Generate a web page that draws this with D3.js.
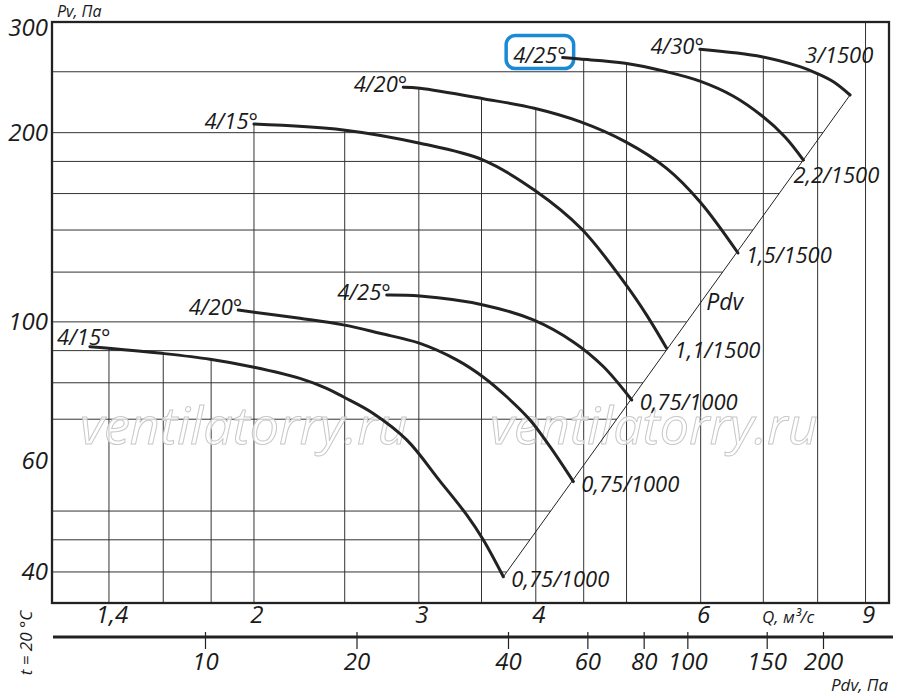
<!DOCTYPE html>
<html>
<head>
<meta charset="utf-8">
<script src="https://cdn.jsdelivr.net/npm/d3@7"></script>
<style>
  body { margin: 0; background: #fff; }
  text { font-family: "Open Sans", sans-serif; font-style: italic; fill: #1a1a1a; }
</style>
</head>
<body>
<script>
const width = 900;
const height = 697;
const margin = {top: 22, right: 11, bottom: 94, left: 52};

// axis values
const pvTicks = [300, 200, 100, 60, 40];
const pvGrid = [250, 200, 180, 160, 140, 120, 100, 90, 80, 70, 50, 45, 40];
const qTicks = [1.4, 2, 3, 4, 6, 9];
const qGrid = [1.4, 1.6, 1.8, 2, 2.5, 3, 3.5, 4, 4.5, 5, 6, 7, 8, 9];
const pdvTicks = [10, 20, 40, 60, 80, 100, 150, 200];

// fan curves, [Q m3/s, Pv Pa]
const low15 = [[1.336, 91.3], [1.399, 90.8], [1.595, 89.1], [1.795, 87.2], [2.0, 84.7], [2.239, 81.3], [2.391, 78.4],
  [2.49, 76.0], [2.682, 71.5], [2.912, 64.9], [3.16, 55.8], [3.375, 49.3], [3.515, 45.0], [3.693, 39.3]];
const low20 = [[1.924, 104.4], [2.239, 101.3], [2.491, 98.9], [2.726, 95.9], [3.003, 92.5], [3.293, 87.0],
  [3.511, 81.8], [3.724, 76.0], [3.944, 69.8], [4.142, 63.3], [4.387, 55.7]];
const low25 = [[2.772, 110.3], [3.008, 109.9], [3.515, 106.4], [3.976, 100.7], [4.387, 92.9], [4.722, 84.9], [5.064, 75.1]];
const high15 = [[2.0, 206.4], [2.491, 202.0], [3.008, 192.4], [3.515, 180.9], [3.992, 161.8], [4.477, 140.5],
  [4.994, 114.5], [5.254, 102.5], [5.518, 90.8]];
const high20 = [[2.887, 236.2], [3.008, 235.3], [3.515, 226.5], [3.985, 218.7], [4.459, 208.2], [4.984, 193.5],
  [5.518, 175.5], [5.989, 155.3], [6.577, 128.7]];
const high25 = [[4.273, 263.3], [4.459, 261.9], [4.984, 257.9], [5.518, 250.0], [5.989, 241.6], [6.497, 228.8],
  [6.98, 212.6], [7.384, 196.9], [7.725, 180.9]];
const high30 = [[5.989, 271.5], [6.973, 264.2], [7.658, 254.7], [7.982, 248.6], [8.316, 241.0], [8.664, 229.6]];
// dynamic pressure line through the curve ends
const pdvLine = [[3.693, 39.3], [8.664, 229.6]];

const curves = [
  {pts: low15, angle: "4/15°", motor: "0,75/1000"},
  {pts: low20, angle: "4/20°", motor: "0,75/1000"},
  {pts: low25, angle: "4/25°", motor: "0,75/1000"},
  {pts: high15, angle: "4/15°", motor: "1,1/1500"},
  {pts: high20, angle: "4/20°", motor: "1,5/1500"},
  {pts: high25, angle: "4/25°", motor: "2,2/1500", marked: true},
  {pts: high30, angle: "4/30°", motor: "3/1500"}
];

const svg = d3.select("body")
  .append("svg")
  .attr("width", width)
  .attr("height", height);

const x = d3.scaleLog().domain([1.217, 9.535]).range([margin.left, width - margin.right]);
const y = d3.scaleLog().domain([35.7, 300]).range([height - margin.bottom, margin.top]);
// the Pdv scale under the chart is drawn a bit uneven in the original
const xPdv = d3.scaleLog().domain([10, 40, 200]).range([205, 508, 823]);

const fmt = d => String(d).replace(".", ",");

// log-log interpolation along a curve
function pAt(pts, q) {
  for (let i = 0; i < pts.length - 1; i++) {
    const a = pts[i], b = pts[i + 1];
    if (q >= a[0] && q <= b[0]) {
      const t = (Math.log(q) - Math.log(a[0])) / (Math.log(b[0]) - Math.log(a[0]));
      return Math.exp(Math.log(a[1]) + t * (Math.log(b[1]) - Math.log(a[1])));
    }
  }
  return null;
}
function qAt(pts, p) {
  for (let i = 0; i < pts.length - 1; i++) {
    const a = pts[i], b = pts[i + 1];
    const lo = Math.min(a[1], b[1]), hi = Math.max(a[1], b[1]);
    if (p >= lo && p <= hi) {
      const t = (Math.log(p) - Math.log(a[1])) / (Math.log(b[1]) - Math.log(a[1]));
      return Math.exp(Math.log(a[0]) + t * (Math.log(b[0]) - Math.log(a[0])));
    }
  }
  return null;
}

// grid: horizontal lines stop at the outer curve / Pdv line, vertical ones at the top curve
const grid = svg.append("g").attr("stroke", "#333").attr("stroke-width", 1);
grid.selectAll(".h")
  .data(pvGrid)
  .enter()
  .append("line")
  .attr("x1", margin.left)
  .attr("x2", p => {
    const qs = curves.map(c => c.pts).concat([pdvLine]).map(pts => qAt(pts, p)).filter(v => v != null);
    return qs.length ? x(d3.max(qs)) : width - margin.right;
  })
  .attr("y1", p => y(p))
  .attr("y2", p => y(p));

grid.selectAll(".v")
  .data(qGrid)
  .enter()
  .append("line")
  .attr("x1", q => x(q))
  .attr("x2", q => x(q))
  .attr("y1", height - margin.bottom)
  .attr("y2", q => {
    const ps = curves.map(c => pAt(c.pts, q)).filter(v => v != null);
    return ps.length ? y(d3.max(ps)) : margin.top;
  });

// watermark
svg.selectAll(".wm")
  .data([80, 490])
  .enter()
  .append("text")
  .attr("x", d => d)
  .attr("y", 444)
  .style("font-size", "52px")
  .style("fill", "#fff")
  .style("fill-opacity", 0.7)
  .style("stroke", "#c8c8c8")
  .style("stroke-width", 1)
  .text("ventilatorry.ru");

// frame
svg.append("rect")
  .attr("x", margin.left)
  .attr("y", margin.top)
  .attr("width", width - margin.left - margin.right)
  .attr("height", height - margin.top - margin.bottom)
  .attr("fill", "none")
  .attr("stroke", "#222")
  .attr("stroke-width", 2.3);

// Pdv line
const line = d3.line().x(d => x(d[0])).y(d => y(d[1]));
svg.append("path")
  .datum(pdvLine)
  .attr("d", line)
  .attr("fill", "none")
  .attr("stroke", "#222")
  .attr("stroke-width", 1);

const pdvLabelP = 106;
svg.append("text")
  .attr("x", x(qAt(pdvLine, pdvLabelP)) + 8)
  .attr("y", y(pdvLabelP) + 4)
  .style("font-size", "23px")
  .text("Pdv");

// fan curves
const curveLine = d3.line().x(d => x(d[0])).y(d => y(d[1])).curve(d3.curveCatmullRom.alpha(0.5));
svg.selectAll(".curve")
  .data(curves)
  .enter()
  .append("path")
  .attr("d", d => curveLine(d.pts))
  .attr("fill", "none")
  .attr("stroke", "#222")
  .attr("stroke-width", 3)
  .attr("stroke-linecap", "round");

// blade angle labels at the start of each curve
curves.forEach(c => {
  const [q0, p0] = c.pts[0];
  const t = svg.append("text")
    .attr("x", x(q0) + 4)
    .attr("y", y(p0) + 5)
    .attr("text-anchor", "end")
    .style("font-size", "22px")
    .text(c.angle);
  let bb = t.node().getBBox();
  if (bb.x < margin.left + 3) {
    t.attr("text-anchor", "start").attr("x", margin.left + 5).attr("y", y(p0) - 2);
    bb = t.node().getBBox();
  }
  if (c.marked) {
    svg.insert("rect", "text")
      .attr("x", bb.x - 7)
      .attr("y", bb.y - 3)
      .attr("width", bb.width + 14)
      .attr("height", bb.height + 3)
      .attr("rx", 9)
      .attr("fill", "#fff")
      .attr("stroke", "#1a8ad4")
      .attr("stroke-width", 3.5);
    t.raise();
  }
});

// motor labels at the end of each curve
const crowded = {"2,2/1500": [-10, 23], "3/1500": [-45, -32]};
curves.forEach(c => {
  const [q1, p1] = c.pts[c.pts.length - 1];
  const off = crowded[c.motor] || [8, 10];
  svg.append("text")
    .attr("x", x(q1) + off[0])
    .attr("y", y(p1) + off[1])
    .style("font-size", "22px")
    .text(c.motor);
});

// Pv axis labels
svg.selectAll(".pv")
  .data(pvTicks)
  .enter()
  .append("text")
  .attr("x", margin.left - 4)
  .attr("y", p => Math.max(y(p), margin.top + 6) + 8)
  .attr("text-anchor", "end")
  .style("font-size", "24px")
  .text(fmt);

svg.append("text")
  .attr("x", margin.left + 5)
  .attr("y", margin.top - 5)
  .style("font-size", "16px")
  .text("Pv, Па");

// Q axis labels
const bottom = height - margin.bottom;
svg.selectAll(".q")
  .data(qTicks)
  .enter()
  .append("text")
  .attr("x", q => x(q) + 3)
  .attr("y", bottom + 20)
  .attr("text-anchor", "middle")
  .style("font-size", "24px")
  .text(fmt);

svg.append("text")
  .attr("x", 762)
  .attr("y", bottom + 20)
  .style("font-size", "17px")
  .text("Q, м³/с");

// Pdv axis
const axisY = 637;
const pdvAxis = svg.append("g")
  .attr("transform", `translate(0,${axisY})`)
  .call(d3.axisBottom(xPdv).tickValues(pdvTicks).tickFormat(fmt).tickSizeInner(12).tickSizeOuter(0).tickPadding(4));
pdvAxis.select(".domain").remove();
pdvAxis.selectAll(".tick line").attr("y1", -5).attr("stroke", "#222").attr("stroke-width", 1.2);
pdvAxis.selectAll(".tick text")
  .attr("fill", null)
  .style("font-size", "24px")
  .style("font-family", "'Open Sans', sans-serif");
pdvAxis.append("line")
  .attr("x1", margin.left + 1)
  .attr("x2", width - 7)
  .attr("stroke", "#222")
  .attr("stroke-width", 3);

svg.append("text")
  .attr("x", width - 12)
  .attr("y", height - 6)
  .attr("text-anchor", "end")
  .style("font-size", "17px")
  .text("Pdv, Па");

svg.append("text")
  .attr("transform", `translate(32,${axisY + 6}) rotate(-90)`)
  .attr("text-anchor", "middle")
  .style("font-size", "17px")
  .text("t = 20 °C");
</script>
</body>
</html>
